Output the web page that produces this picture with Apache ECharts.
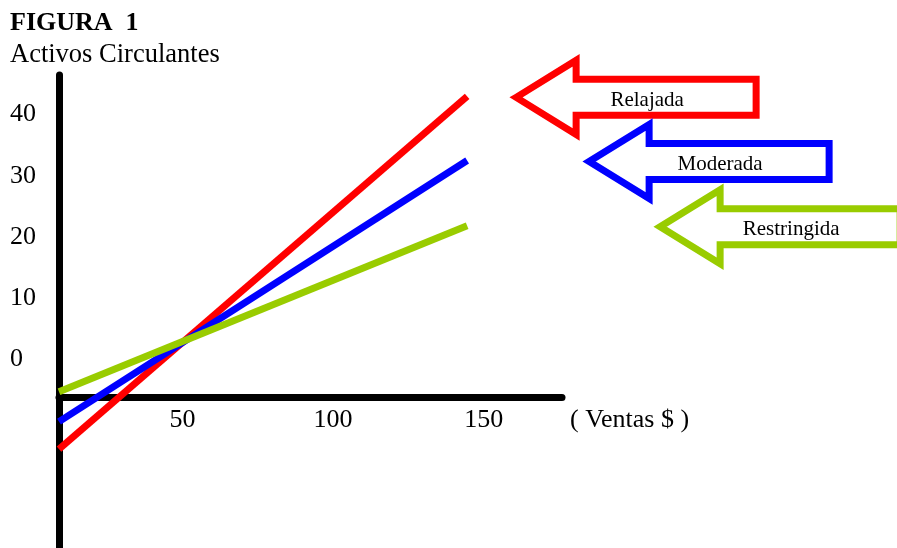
<!DOCTYPE html>
<html lang="es">
<head>
<meta charset="UTF-8">
<title>Figura 1 - Activos Circulantes</title>
<script src="https://cdn.jsdelivr.net/npm/echarts@6/dist/echarts.min.js"></script>
<style>
    html, body { margin: 0; padding: 0; background: #fff; }
    #main { width: 897px; height: 548px; }
</style>
</head>
<body>
<div id="main"></div>
<script>
// ventas (eje x) al inicio y al final de cada recta
var ventas = [9, 144.5];
// activos circulantes para cada política
var relajada = [-14.8, 43];
var moderada = [-10.3, 32.5];
var restringida = [-5.4, 21.8];
var nombres = ['Relajada', 'Moderada', 'Restringida'];
var xTicks = [50, 100, 150];
var yTicks = [0, 10, 20, 30, 40];

var colores = ['#ff0000', '#0000ff', '#99cc00'];
var flechaDx = [49, 122, 193];   // distancia de la punta de la flecha al final de la recta
var serif = "'Liberation Serif', 'Times New Roman', serif";

var lineas = [relajada, moderada, restringida];

function pares(ys) {
    return ventas.map(function (x, i) { return [x, ys[i]]; });
}

var series = lineas.map(function (ys, i) {
    return {
        name: nombres[i],
        type: 'line',
        data: pares(ys),
        symbol: 'none',
        silent: true,
        z: 3,
        lineStyle: { color: colores[i], width: 7, cap: 'butt' }
    };
});

// flechas con el nombre de cada política
series.push({
    type: 'custom',
    silent: true,
    z: 4,
    data: lineas.map(function (ys, i) { return [ventas[1], ys[1], i]; }),
    encode: { x: 0, y: 1 },
    renderItem: function (params, api) {
        var i = api.value(2);
        var p = api.coord([api.value(0), api.value(1)]);
        var tx = p[0] + flechaDx[i];
        var ty = p[1] + 1;
        var forma = [[0, 0], [60, -37], [60, -18], [240, -18], [240, 18], [60, 18], [60, 37]];
        var pts = forma.map(function (d) { return [tx + d[0], ty + d[1]]; });
        return {
            type: 'group',
            children: [{
                type: 'polygon',
                shape: { points: pts },
                style: { fill: 'none', stroke: colores[i], lineWidth: 7, lineJoin: 'miter' }
            }, {
                type: 'text',
                x: tx + 131,
                y: ty + 3,
                style: {
                    text: nombres[i], fill: '#000', fontSize: 21, fontFamily: serif,
                    align: 'center', verticalAlign: 'middle'
                }
            }]
        };
    }
});

var myChart = echarts.init(document.getElementById('main'));

var option = {
    animation: false,
    title: {
        text: 'FIGURA  1',
        subtext: 'Activos Circulantes',
        left: 10,
        top: 10,
        padding: 0,
        itemGap: 6,
        textStyle: { fontFamily: serif, fontSize: 26, fontWeight: 'bold', color: '#000' },
        subtextStyle: { fontFamily: serif, fontSize: 26.5, color: '#000' }
    },
    grid: {
        left: 59,
        right: 335,
        top: 75,
        bottom: 0,
        outerBoundsMode: 'none'
    },
    xAxis: {
        type: 'value',
        min: 9,
        max: 176,
        offset: -150.5,
        name: '( Ventas $ )',
        nameLocation: 'end',
        nameGap: 8,
        nameTextStyle: {
            fontFamily: serif, fontSize: 26, color: '#000',
            align: 'left', verticalAlign: 'top', padding: [10, 0, 0, 0]
        },
        axisLine: { onZero: false, lineStyle: { color: '#000', width: 7 } },
        axisTick: { show: false },
        splitLine: { show: false },
        axisLabel: {
            customValues: xTicks,
            margin: 10,
            fontFamily: serif, fontSize: 26, color: '#000'
        }
    },
    yAxis: {
        type: 'value',
        min: -31,
        max: 46.5,
        axisLine: { show: true, onZero: false, lineStyle: { color: '#000', width: 7 } },
        axisTick: { show: false },
        splitLine: { show: false },
        axisLabel: {
            customValues: yTicks,
            align: 'left',
            margin: 49,
            fontFamily: serif, fontSize: 26, color: '#000'
        }
    },
    series: series
};

myChart.setOption(option);
</script>
</body>
</html>
